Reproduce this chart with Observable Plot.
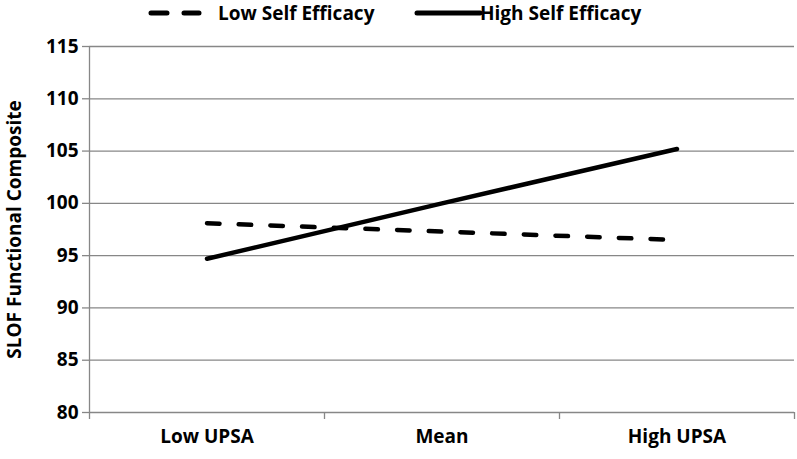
<!DOCTYPE html>
<html><head>
<meta charset="utf-8">
<script src="https://cdn.jsdelivr.net/npm/d3@7"></script>
<script src="https://cdn.jsdelivr.net/npm/@observablehq/plot@0.6"></script>
<style>
body{margin:0;background:#fff;font-family:"Open Sans",Lato,sans-serif;}
#legend{position:relative;height:30px;width:797px;font-weight:bold;font-size:19px;color:#000;}
#legend .item{position:absolute;top:-2px;height:30px;display:flex;align-items:center;white-space:nowrap;}
#legend svg{display:block;}
</style></head><body>
<div id="legend"></div>
<div id="chart"></div>
<script>
const categories = ["Low UPSA", "Mean", "High UPSA"];
const lowSelfEfficacy = [98.1, 97.3, 96.5];
const highSelfEfficacy = [94.7, 100.0, 105.2];
const seriesNames = ["Low Self Efficacy", "High Self Efficacy"];
const yTicks = [80, 85, 90, 95, 100, 105, 110, 115];
const yLabel = "SLOF Functional Composite";

const rows = [];
categories.forEach((c, i) => {
  rows.push({cat: c, idx: i + 0.5, series: seriesNames[0], value: lowSelfEfficacy[i]});
  rows.push({cat: c, idx: i + 0.5, series: seriesNames[1], value: highSelfEfficacy[i]});
});

const FONT = "'Open Sans', Lato, sans-serif";
const GRID = "#878787";

// legend
const legend = document.getElementById("legend");
legend.innerHTML = `
<div class="item" style="left:147px"><svg width="56" height="10"><line x1="4" y1="5" x2="52" y2="5" stroke="#000" stroke-width="5" stroke-linecap="round" stroke-dasharray="16,17"/></svg></div>
<div class="item" style="left:218px">${seriesNames[0]}</div>
<div class="item" style="left:414px"><svg width="68" height="10"><line x1="3" y1="5" x2="66" y2="5" stroke="#000" stroke-width="5" stroke-linecap="round"/></svg></div>
<div class="item" style="left:480px">${seriesNames[1]}</div>`;

const plot = Plot.plot({
  width: 797,
  height: 429,
  marginLeft: 89,
  marginRight: 3,
  marginTop: 16,
  marginBottom: 47,
  x: {type: "linear", domain: [0, categories.length], axis: null, label: null},
  y: {domain: [80, 115], axis: null, label: null},
  style: {fontFamily: FONT, fontSize: "19px", fontWeight: "bold", color: "#000", background: "#fff"},
  marks: [
    Plot.gridY(yTicks, {stroke: GRID, strokeOpacity: 1, strokeWidth: 1.3}),
    Plot.axisY(yTicks, {tickSize: 7, tickPadding: 4, stroke: GRID, strokeWidth: 1.3, fill: "#000", fontSize: 19, fontWeight: "bold", label: null}),
    Plot.ruleX([0], {stroke: GRID, strokeWidth: 1.3}),
    Plot.axisX(d3.range(categories.length + 1), {tickSize: 7, tickFormat: () => "", stroke: GRID, strokeWidth: 1.3, label: null}),
    Plot.axisX(categories.map((c, i) => i + 0.5), {tickSize: 0, tickPadding: 17, tickFormat: v => categories[Math.floor(v)], fill: "#000", fontSize: 19, fontWeight: "bold", label: null}),
    Plot.line(rows.filter(d => d.series === seriesNames[0]), {x: "idx", y: "value", stroke: "#000", strokeWidth: 4.5, strokeDasharray: "12.5,19.2", strokeLinecap: "round"}),
    Plot.line(rows.filter(d => d.series === seriesNames[1]), {x: "idx", y: "value", stroke: "#000", strokeWidth: 4.5, strokeLinecap: "round"}),
    Plot.text([yLabel], {frameAnchor: "left", textAnchor: "middle", rotate: -90, dx: -75, fontSize: 19, fontWeight: "bold", fill: "#000"})
  ]
});
document.getElementById("chart").appendChild(plot);
</script>
</body></html>
